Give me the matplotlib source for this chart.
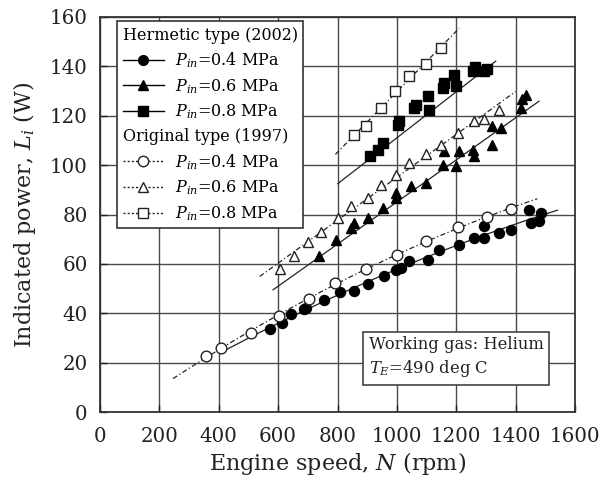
import numpy as np
import matplotlib
matplotlib.use("Agg")
import matplotlib.pyplot as plt
from matplotlib.lines import Line2D

plt.rcParams['font.family'] = ['DejaVu Serif']
plt.rcParams['mathtext.fontset'] = 'dejavuserif'

# ---------------- data ----------------
# Hermetic type (2002)
herm04_N = [574, 614, 644, 686, 695, 756, 807, 857, 902, 958, 997, 1014, 1042, 1104,
            1143, 1210, 1261, 1294, 1294, 1345, 1384, 1445, 1451, 1479, 1485]
herm04_L = [33.5, 36, 39.6, 41.7, 42, 45.4, 48.5, 49, 52, 54.9, 57.6, 58.3, 61, 61.7,
            65.7, 67.7, 70.4, 70.4, 75.2, 72.5, 73.8, 81.9, 76.5, 77.2, 80.6]
herm06_N = [739, 795, 846, 857, 902, 952, 997, 997, 1047, 1098, 1154, 1199, 1160, 1210,
            1255, 1261, 1322, 1322, 1350, 1417, 1423, 1434]
herm06_L = [63.3, 69.5, 74.5, 76.5, 78.6, 82.6, 86.7, 88.6, 91.4, 92.8, 100.2, 99.5, 105.6,
            105.6, 106.3, 103.6, 108.3, 115.7, 115.1, 123.2, 126.6, 128.6]
herm08_N = [908, 936, 952, 1003, 1008, 1059, 1065, 1104, 1109, 1154, 1160, 1193, 1199,
            1255, 1262, 1294, 1305]
herm08_L = [103.6, 106.3, 109, 116.4, 118, 123.2, 124.5, 127.9, 122.5, 131.3, 133.3, 136.7,
            132, 138.1, 139.8, 138.1, 139]
# Original type (1997)
orig04_N = [356, 409, 508, 602, 703, 790, 896, 1000, 1098, 1205, 1303, 1384]
orig04_L = [22.7, 26, 32, 38.7, 45.8, 52.3, 57.9, 63.5, 69.4, 74.8, 79, 82.2]
orig06_N = [605, 655, 700, 745, 801, 846, 902, 947, 997, 1042, 1098, 1148, 1205, 1261,
            1294, 1345]
orig06_L = [58, 63.3, 69, 72.8, 78.5, 83.3, 86.7, 92.1, 96.1, 100.9, 104.6, 108.3, 113,
            117.8, 118.5, 122.5]
orig08_N = [857, 896, 947, 992, 1042, 1098, 1148]
orig08_L = [112.4, 115.7, 123.2, 130, 136, 140.8, 147.5]

# fitted-curve extents (rpm)
herm04_fit_range = [426, 1541]
orig04_fit_range = [246, 1473]
orig06_fit_range = [538, 1400]
orig08_fit_range = [793, 1210]
# straight fit lines of the hermetic type, end points
herm06_fit_N = [583, 1479]
herm06_fit_L = [49.5, 125.9]
herm08_fit_N = [801, 1333]
herm08_fit_L = [92.5, 142.1]

labels_p = [r'$P_{in}$=0.4 MPa', r'$P_{in}$=0.6 MPa', r'$P_{in}$=0.8 MPa']
headers = ['Hermetic type (2002)', 'Original type (1997)']
xticks = [0, 200, 400, 600, 800, 1000, 1200, 1400, 1600]
yticks = [0, 20, 40, 60, 80, 100, 120, 140, 160]

# ---------------- figure ----------------
fig = plt.figure(figsize=(6.04, 4.83), dpi=100)
ax = fig.add_axes([100/604, 71/483, 475/604, 395/483])

ax.set_xlim(0, 1600)
ax.set_ylim(0, 160)
ax.set_xticks(xticks)
ax.set_yticks(yticks)
ax.grid(True, color='#4a4a4a', lw=1.0)
ax.set_axisbelow(True)
ax.tick_params(direction='in', length=5, width=1, labelsize=14.3, colors='#222222')
ax.tick_params(axis='x', pad=11)
ax.tick_params(axis='y', pad=9)
for s in ax.spines.values():
    s.set_color('#333333')
    s.set_linewidth(1.3)

ax.set_xlabel(r'Engine speed, $N$ (rpm)', fontsize=16, color='#222222', labelpad=3)
ax.set_ylabel(r'Indicated power, $L_i$ (W)', fontsize=16, color='#222222', labelpad=8)

ms = 7.2
dash = (0, (4, 2, 1, 2))
line_kw = dict(color='#222222', lw=0.9, zorder=2)

def fitline(N, L, rng, deg, ls):
    c = np.polyfit(N, L, deg)
    xs = np.linspace(rng[0], rng[1], 100)
    ax.plot(xs, np.polyval(c, xs), ls=ls, **line_kw)

fitline(herm04_N, herm04_L, herm04_fit_range, 2, '-')
ax.plot(herm06_fit_N, herm06_fit_L, ls='-', **line_kw)
ax.plot(herm08_fit_N, herm08_fit_L, ls='-', **line_kw)
fitline(orig04_N, orig04_L, orig04_fit_range, 2, dash)
fitline(orig06_N, orig06_L, orig06_fit_range, 1, dash)
fitline(orig08_N, orig08_L, orig08_fit_range, 1, dash)

for N, L, m in [(herm04_N, herm04_L, 'o'), (herm06_N, herm06_L, '^'), (herm08_N, herm08_L, 's')]:
    ax.plot(N, L, ls='none', marker=m, ms=ms, mfc='black', mec='black', zorder=3)
for N, L, m in [(orig04_N, orig04_L, 'o'), (orig06_N, orig06_L, '^'), (orig08_N, orig08_L, 's')]:
    ax.plot(N, L, ls='none', marker=m, ms=ms + 0.5, mfc='white', mec='#222222', mew=1.0, zorder=4)

# legend
blank = Line2D([], [], ls='none')
handles = [blank]
labels = [headers[0]]
for m, lab in zip(['o', '^', 's'], labels_p):
    handles.append(Line2D([], [], color='black', lw=1.0, marker=m, ms=7, mfc='black', mec='black'))
    labels.append(lab)
handles.append(blank)
labels.append(headers[1])
for m, lab in zip(['o', '^', 's'], labels_p):
    handles.append(Line2D([], [], color='#222222', lw=1.0, ls=(0, (1.5, 1.5)), marker=m, ms=7.5,
                          mfc='white', mec='#222222'))
    labels.append(lab)

fs_leg = 11.5
leg = ax.legend(handles, labels, loc='upper left', bbox_to_anchor=(0.036, 0.99),
                borderaxespad=0, fontsize=fs_leg, handlelength=2.6, handletextpad=0.7,
                labelspacing=0.43, borderpad=0.35, fancybox=False, framealpha=1,
                edgecolor='#333333')
leg.get_frame().set_linewidth(1.2)
# headers: remove handle space so the text starts at the left edge
for col in leg._legend_handle_box.get_children():
    for row in col.get_children():
        kids = row.get_children()
        if len(kids) == 2 and kids[1]._text.get_text() in headers:
            kids[0].width = 0
            row.sep = 0

ax.text(0.566, 0.138, 'Working gas: Helium\n' + r'$T_E$=490 deg C', transform=ax.transAxes,
        fontsize=11.8, va='center', ha='left', linespacing=1.35, color='#222222',
        bbox=dict(boxstyle='square,pad=0.35', fc='white', ec='#444444', lw=1.2), zorder=5)

fig.savefig('out.png', dpi=100)
